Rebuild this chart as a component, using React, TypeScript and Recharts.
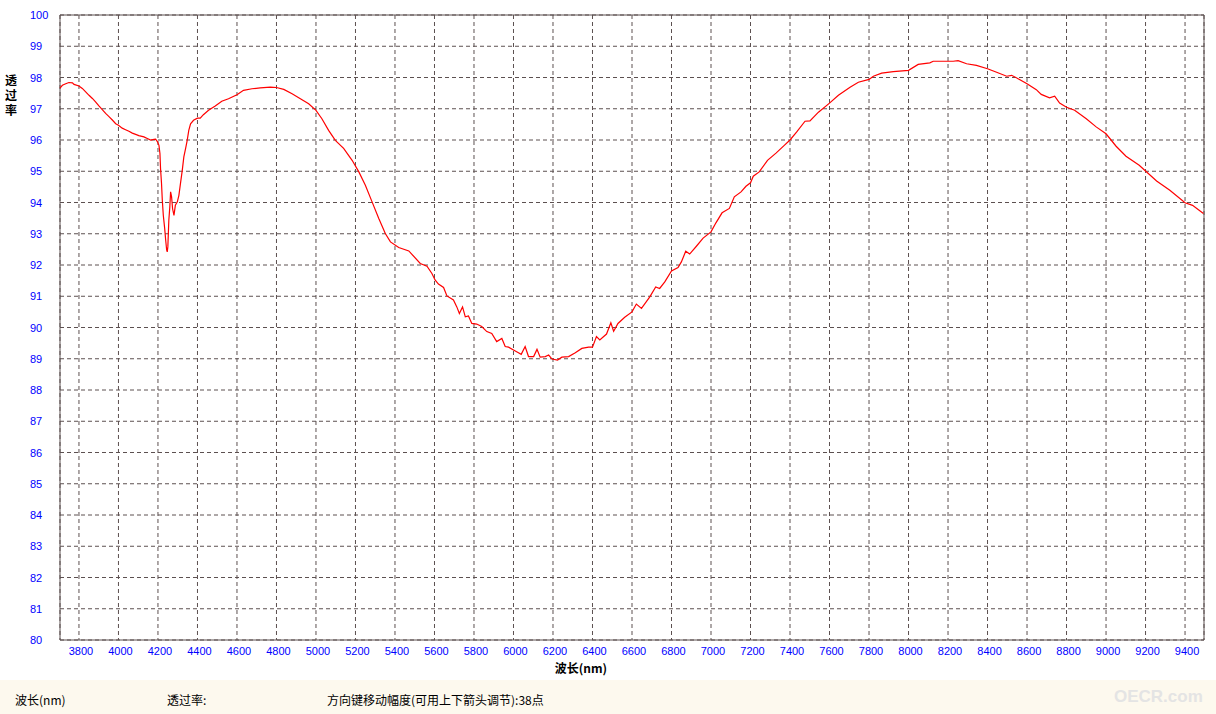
import { LineChart, Line, XAxis, YAxis, CartesianGrid, ReferenceArea, Label } from 'recharts';

// wavelength (nm) and transmittance (%)
const wavelength = [
  3704, 3716, 3733, 3749, 3767, 3775, 3800, 3817, 3834, 3851, 3868, 3884, 3901, 3918, 3935, 3952, 3969, 3986,
  4000, 4019, 4036, 4053, 4070, 4087, 4103, 4129, 4146, 4163, 4180, 4188, 4197, 4205, 4210, 4213, 4218, 4222,
  4227, 4234, 4239, 4244, 4247, 4250, 4255, 4260, 4264, 4269, 4274, 4281, 4288, 4298, 4306, 4314, 4323, 4331,
  4340, 4348, 4356, 4365, 4380, 4400, 4414, 4430, 4456, 4490, 4523, 4557, 4600, 4633, 4676, 4718, 4769, 4800,
  4837, 4879, 4921, 4963, 5000, 5030, 5064, 5098, 5140, 5183, 5217, 5250, 5284, 5318, 5351, 5377, 5419, 5470,
  5528, 5562, 5587, 5603, 5620, 5646, 5663, 5696, 5713, 5726, 5742, 5756, 5772, 5789, 5814, 5839, 5865, 5890,
  5915, 5941, 5958, 5975, 6000, 6025, 6039, 6059, 6076, 6102, 6119, 6135, 6161, 6178, 6195, 6223, 6245, 6279,
  6313, 6346, 6380, 6400, 6420, 6437, 6471, 6493, 6507, 6529, 6563, 6600, 6622, 6648, 6690, 6720, 6740, 6766,
  6800, 6833, 6850, 6872, 6892, 6926, 6960, 7000, 7025, 7056, 7093, 7118, 7152, 7177, 7200, 7214, 7244, 7286,
  7329, 7371, 7400, 7434, 7476, 7501, 7544, 7600, 7645, 7704, 7746, 7800, 7822, 7864, 7923, 8000, 8049, 8108,
  8125, 8200, 8226, 8251, 8294, 8344, 8400, 8446, 8497, 8522, 8564, 8600, 8647, 8672, 8714, 8740, 8765, 8800,
  8841, 8900, 8950, 9000, 9051, 9101, 9168, 9200, 9256, 9323, 9400, 9438, 9493,
];

const transmittance = [
  97.66, 97.75, 97.8, 97.84, 97.83, 97.78, 97.73, 97.65, 97.54, 97.43, 97.33, 97.22, 97.09, 96.97, 96.85, 96.75, 96.64, 96.52,
  96.47, 96.38, 96.33, 96.28, 96.22, 96.18, 96.14, 96.1, 96.05, 96.0, 96.02, 96.03, 95.95, 95.83, 95.57, 95.09, 94.61, 94.07,
  93.59, 93.17, 92.8, 92.48, 92.42, 92.58, 93.43, 93.86, 94.34, 94.18, 93.8, 93.59, 93.91, 94.02, 94.23, 94.61, 95.03, 95.46,
  95.73, 95.99, 96.31, 96.52, 96.63, 96.7, 96.7, 96.81, 96.95, 97.09, 97.24, 97.32, 97.45, 97.59, 97.64, 97.67, 97.69, 97.68,
  97.62, 97.48, 97.32, 97.16, 96.95, 96.68, 96.31, 95.99, 95.73, 95.35, 94.98, 94.55, 94.02, 93.49, 93.01, 92.74, 92.56, 92.45,
  92.05, 91.96, 91.73, 91.52, 91.39, 91.28, 91.01, 90.88, 90.66, 90.45, 90.66, 90.34, 90.37, 90.13, 90.11, 90.03, 89.87, 89.81,
  89.55, 89.65, 89.39, 89.37, 89.28, 89.19, 89.14, 89.39, 89.07, 89.07, 89.3, 89.05, 89.07, 89.12, 88.99, 88.96, 89.05, 89.07,
  89.19, 89.33, 89.37, 89.37, 89.71, 89.6, 89.79, 90.15, 89.88, 90.13, 90.33, 90.5, 90.75, 90.61, 90.98, 91.3, 91.25, 91.46,
  91.81, 91.92, 92.1, 92.44, 92.35, 92.6, 92.86, 93.06, 93.35, 93.67, 93.81, 94.18, 94.34, 94.52, 94.63, 94.84, 94.98, 95.35,
  95.58, 95.83, 96.0, 96.26, 96.6, 96.61, 96.89, 97.18, 97.43, 97.69, 97.85, 97.94, 98.04, 98.14, 98.19, 98.23, 98.42, 98.47,
  98.52, 98.52, 98.52, 98.54, 98.44, 98.39, 98.28, 98.17, 98.04, 98.07, 97.93, 97.8, 97.61, 97.46, 97.35, 97.4, 97.18, 97.05,
  96.95, 96.68, 96.42, 96.2, 95.8, 95.48, 95.19, 95.01, 94.69, 94.39, 93.99, 93.91, 93.65,
];

const xTicks = [
  3800, 4000, 4200, 4400, 4600, 4800, 5000, 5200, 5400, 5600, 5800, 6000, 6200, 6400, 6600,
  6800, 7000, 7200, 7400, 7600, 7800, 8000, 8200, 8400, 8600, 8800, 9000, 9200, 9400,
];
const yTicks = [80, 81, 82, 83, 84, 85, 86, 87, 88, 89, 90, 91, 92, 93, 94, 95, 96, 97, 98, 99, 100];

const data = wavelength.map((w, i) => ({ w, t: transmittance[i] }));

const GRID = '#5c5050';
const TICK_FONT = '"Liberation Sans", Arial, sans-serif';
const CJK_FONT = '"Noto Sans CJK SC", sans-serif';

const YTick = (props: any) => (
  <text x={30} y={props.y} dy={4} textAnchor="start" fill="#0000ff" fontSize={11} fontFamily={TICK_FONT}>
    {props.payload.value}
  </text>
);

const XTick = (props: any) => (
  <text x={props.x + 2} y={655} textAnchor="middle" fill="#0000ff" fontSize={11} fontFamily={TICK_FONT}>
    {props.payload.value}
  </text>
);

export default function App() {
  return (
    <div style={{ position: 'absolute', left: 0, top: 0, width: 1216, height: 714, background: '#fff', overflow: 'hidden' }}>
      <LineChart width={1216} height={680} data={data} margin={{ top: 15, right: 12, left: 0, bottom: 0 }}>
        <CartesianGrid stroke={GRID} strokeDasharray="4 3" />
        <XAxis
          dataKey="w"
          type="number"
          domain={[3704, 9496]}
          ticks={xTicks}
          height={40}
          axisLine={false}
          tickLine={false}
          tick={<XTick />}
        >
          <Label
            value="波长(nm)"
            position="insideBottom"
            offset={7}
            dx={-51}
            fill="#000"
            fontSize={12}
            fontWeight="bold"
            fontFamily={CJK_FONT}
          />
        </XAxis>
        <YAxis
          type="number"
          domain={[80, 100]}
          ticks={yTicks}
          width={60}
          axisLine={false}
          tickLine={false}
          tick={<YTick />}
        />
        <ReferenceArea x1={3704} x2={9496} y1={80} y2={100} fill="none" stroke={GRID} strokeWidth={1} />
        <Line
          type="linear"
          dataKey="t"
          stroke="#ff0000"
          strokeWidth={1.2}
          dot={false}
          activeDot={false}
          isAnimationActive={false}
        />
      </LineChart>

      <div
        style={{
          position: 'absolute',
          left: 4,
          top: 72,
          width: 14,
          fontFamily: CJK_FONT,
          fontSize: 12,
          fontWeight: 'bold',
          lineHeight: '15px',
          textAlign: 'center',
          color: '#000',
        }}
      >
        <div>透</div>
        <div>过</div>
        <div>率</div>
      </div>

      <div
        style={{
          position: 'absolute',
          left: 0,
          top: 680,
          width: 1216,
          height: 34,
          background: '#fdf9ee',
          fontFamily: CJK_FONT,
          fontSize: 12,
          color: '#000',
        }}
      >
        <span style={{ position: 'absolute', left: 15, top: 11 }}>波长(nm)</span>
        <span style={{ position: 'absolute', left: 167, top: 11 }}>透过率:</span>
        <span style={{ position: 'absolute', left: 327, top: 11 }}>方向键移动幅度(可用上下箭头调节):38点</span>
        <span
          style={{
            position: 'absolute',
            left: 1114,
            top: 7,
            fontFamily: '"Liberation Sans", Arial, sans-serif',
            fontWeight: 'bold',
            fontSize: 17,
            color: '#e4e4e4',
          }}
        >
          OECR.com
        </span>
      </div>
    </div>
  );
}
